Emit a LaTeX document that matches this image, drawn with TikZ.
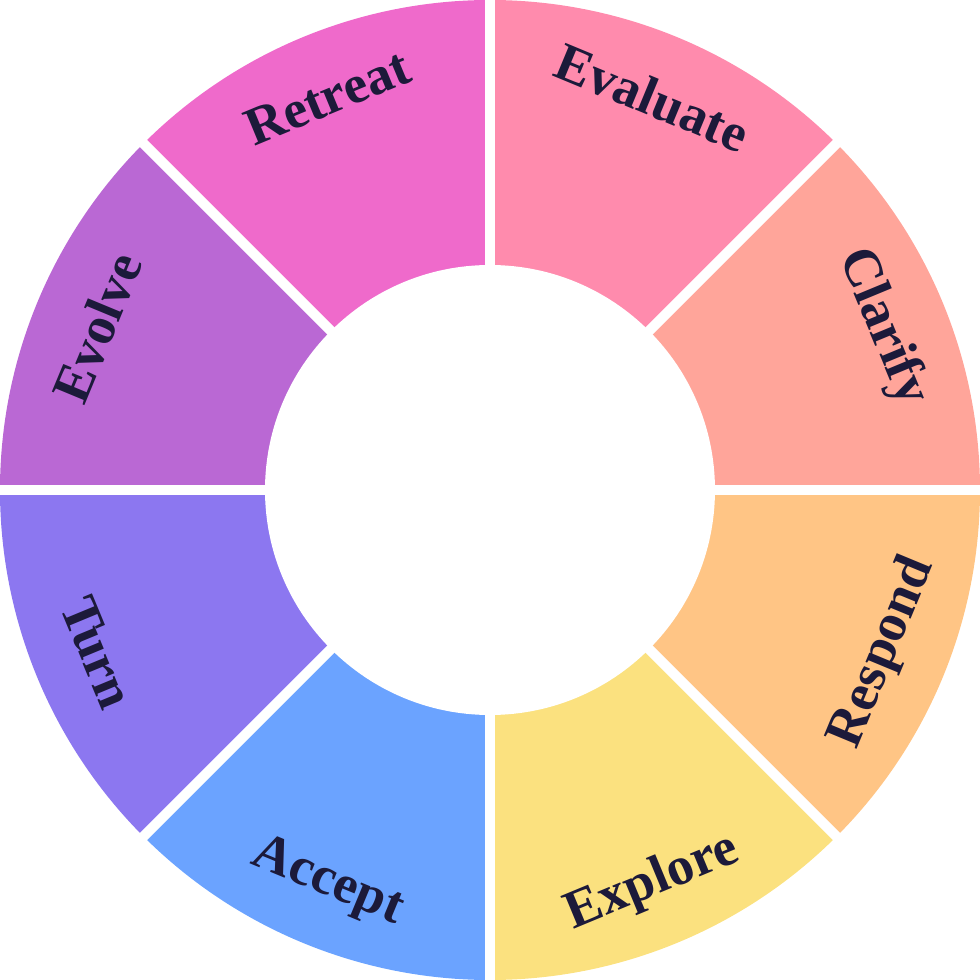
\documentclass[tikz,border=0pt]{standalone}
\usepackage{fontspec}
\setmainfont{Liberation Serif}
\begin{document}
\begin{tikzpicture}[x=1bp,y=1bp,
  lbl/.style={font=\bfseries\fontsize{54}{58}\selectfont, text=labc, inner sep=0},
  gap/.style={white, line width=10bp}]
\definecolor{labc}{HTML}{1C1A3A}
\definecolor{cEva}{HTML}{FF8BAD}
\definecolor{cCla}{HTML}{FFA59A}
\definecolor{cRes}{HTML}{FFC585}
\definecolor{cExp}{HTML}{FBE17F}
\definecolor{cAcc}{HTML}{6BA3FF}
\definecolor{cTur}{HTML}{8C77F0}
\definecolor{cEvo}{HTML}{BA68D4}
\definecolor{cRet}{HTML}{EF6ACB}
\useasboundingbox (-490,-490) rectangle (490,490);
\coordinate (c) at (0,0);
\foreach \a/\col in {45/cEva,0/cCla,-45/cRes,-90/cExp,-135/cAcc,180/cTur,135/cEvo,90/cRet}{
  \fill[\col] (c) -- (\a:490) arc[start angle=\a, end angle=\a+45, radius=490] -- cycle;
}
\foreach \a in {0,45,...,315}{ \draw[gap] (c) -- (\a:500); }
\fill[white] (c) circle[radius=225];
\node[lbl, rotate=-22.5] (eva) at (67.5:425) {Evaluate};
\node[lbl, rotate=-67.5] (cla) at (22.5:425) {Clarify};
\node[lbl, rotate=67.5] (res) at (-22.5:425) {Respond};
\node[lbl, rotate=22.5] (exp) at (-67.5:425) {Explore};
\node[lbl, rotate=-22.5] (acc) at (-112.5:425) {Accept};
\node[lbl, rotate=-67.5] (tur) at (-157.5:425) {Turn};
\node[lbl, rotate=67.5] (evo) at (157.5:425) {Evolve};
\node[lbl, rotate=22.5] (ret) at (112.5:425) {Retreat};
\end{tikzpicture}
\end{document}
